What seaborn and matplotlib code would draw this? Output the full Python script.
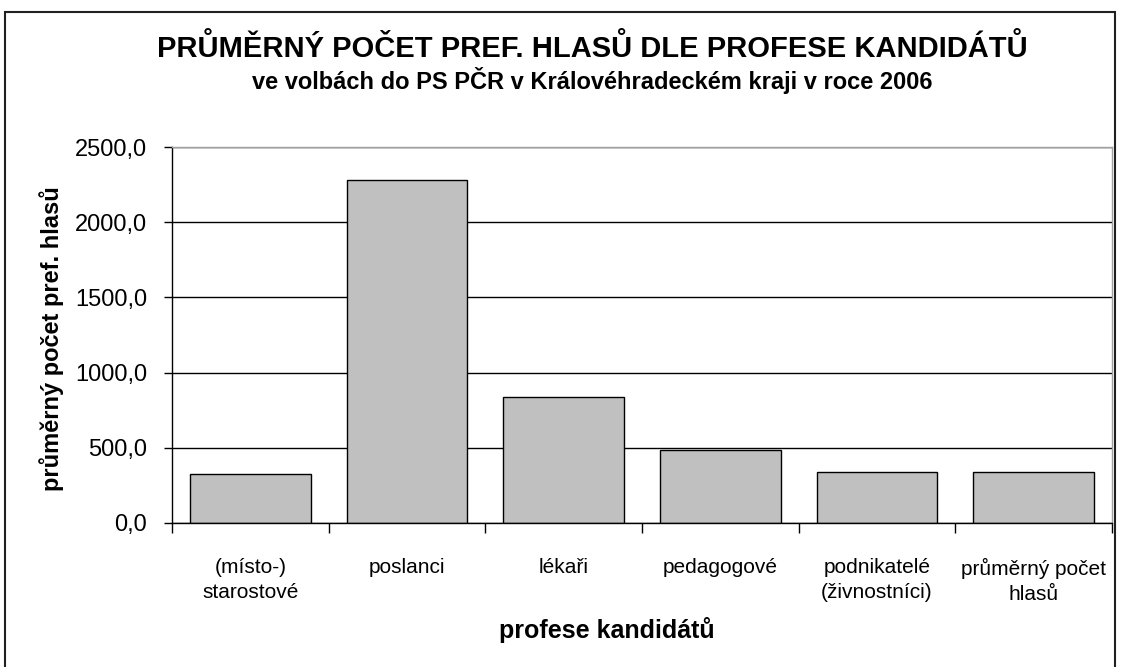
import matplotlib
matplotlib.use("Agg")
import matplotlib.pyplot as plt
import seaborn as sns
import pandas as pd
from matplotlib.patches import Rectangle
from matplotlib.ticker import FuncFormatter, FixedLocator

categories = [
    "(místo-)\nstarostové",
    "poslanci",
    "lékaři",
    "pedagogové",
    "podnikatelé\n(živnostníci)",
    "průměrný počet\nhlasů",
]
values = [327.0, 2280.0, 835.0, 487.0, 340.0, 340.0]
y_ticks = [0, 500, 1000, 1500, 2000, 2500]

title = "PRŮMĚRNÝ POČET PREF. HLASŮ DLE PROFESE KANDIDÁTŮ"
subtitle = "ve volbách do PS PČR v Královéhradeckém kraji v roce 2006"
x_label = "profese kandidátů"
y_label = "průměrný počet pref. hlasů"

sns.set_theme(style="white")
plt.rcParams["font.family"] = ["Liberation Sans", "DejaVu Sans"]
plt.rcParams["text.color"] = "black"
plt.rcParams["axes.labelcolor"] = "black"
plt.rcParams["xtick.color"] = "black"
plt.rcParams["ytick.color"] = "black"

df = pd.DataFrame({"profese": categories, "hlasy": values})

fig = plt.figure(figsize=(11.21, 6.67), dpi=100)
ax = fig.add_axes([0.1534, 0.2159, 0.8386, 0.5637])

sns.barplot(data=df, x="profese", y="hlasy", color="#c0c0c0",
            edgecolor="black", linewidth=1.0, width=0.77,
            saturation=1, ax=ax)

ax.set_ylim(0, 2500)
ax.set_xlim(-0.5, len(categories) - 0.5)
ax.yaxis.set_major_locator(FixedLocator(y_ticks))
ax.yaxis.set_major_formatter(FuncFormatter(lambda v, p: f"{v:.1f}".replace(".", ",")))
ax.yaxis.grid(True, color="black", linewidth=1.0)
ax.set_axisbelow(True)

# category boundary ticks on the x axis, labels centred under bars
ax.set_xticks([i - 0.5 for i in range(len(categories) + 1)], minor=False)
ax.set_xticklabels([])
ax.set_xticks(range(len(categories)), minor=True)
ax.set_xticklabels(categories, minor=True, fontsize=15, linespacing=1.4)
ax.tick_params(axis="x", which="major", length=7, width=1, color="black",
               direction="out", bottom=True)
ax.tick_params(axis="x", which="minor", length=0, pad=25)
ax.tick_params(axis="y", length=6, width=1, color="black", direction="out",
               left=True, labelsize=17, pad=12)

for side in ("top", "right"):
    ax.spines[side].set_color("#a0a0a0")
    ax.spines[side].set_linewidth(1.0)
for side in ("left", "bottom"):
    ax.spines[side].set_color("black")
    ax.spines[side].set_linewidth(1.0)

ax.set_xlabel(x_label, fontsize=18, fontweight="bold")
ax.xaxis.set_label_coords((607 - 172) / 940, -0.285)
ax.xaxis.label.set_va("center")
ax.set_ylabel(y_label, fontsize=17, fontweight="bold")
ax.yaxis.set_label_coords(-0.128, 0.49)
ax.yaxis.label.set_va("center")

fig.text(0.528, 0.928, title, ha="center", va="center",
         fontsize=21, fontweight="bold")
fig.text(0.528, 0.880, subtitle, ha="center", va="center",
         fontsize=17, fontweight="bold")

# outer chart frame
fig.patches.append(Rectangle((5 / 1121, -0.05), 1110 / 1121, 1.05 - 12 / 667,
                             transform=fig.transFigure, fill=False,
                             edgecolor="#202020", linewidth=1.5))

fig.savefig("out.png", dpi=100, facecolor="white")
